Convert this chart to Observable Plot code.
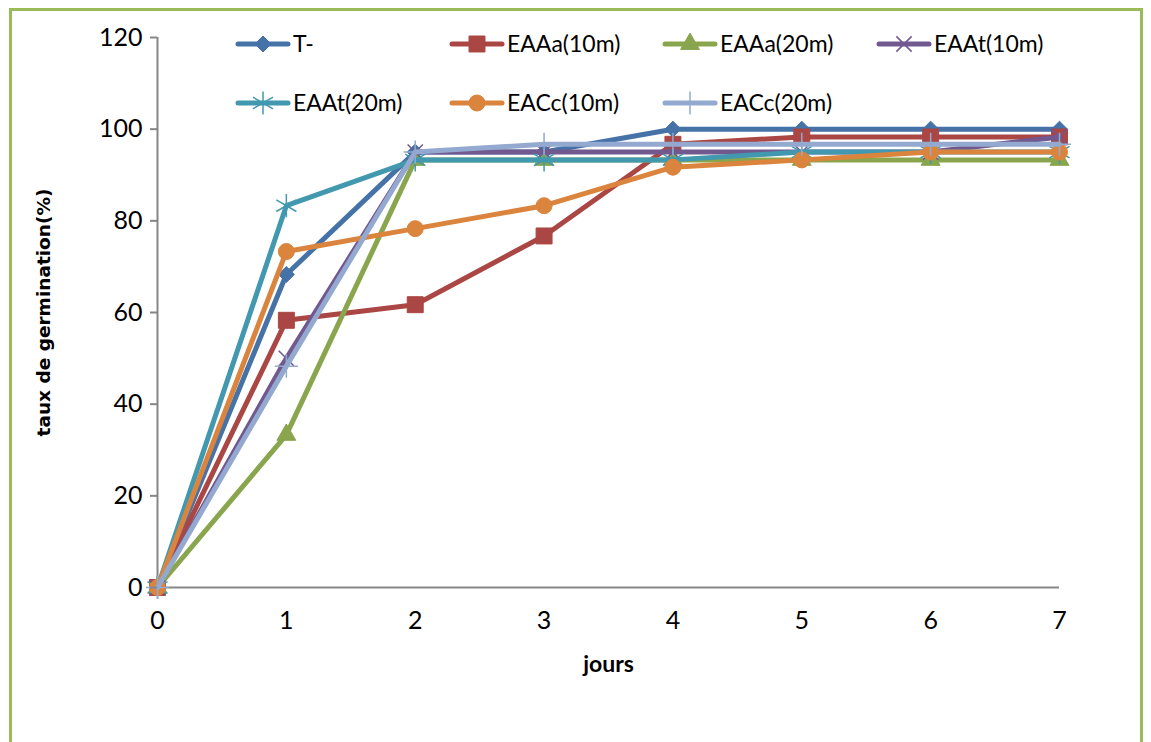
<!DOCTYPE html>
<html>
<head>
<meta charset="utf-8">
<script src="https://cdn.jsdelivr.net/npm/d3@7"></script>
<script src="https://cdn.jsdelivr.net/npm/@observablehq/plot@0.6"></script>
<style>
  html, body { margin: 0; padding: 0; background: #fff; overflow: hidden; }
  #wrap { position: relative; width: 1151px; height: 742px; }
  #frame { position: absolute; left: 9px; top: 8px; width: 1134px; height: 800px;
           border: 3px solid #9BBB59; box-sizing: border-box; }
  #chart, #legend { position: absolute; left: 0; top: 0; }
  #legend { pointer-events: none; }
</style>
</head>
<body>
<div id="wrap">
  <div id="frame"></div>
  <div id="chart"></div>
  <svg id="legend" width="1151" height="742"></svg>
</div>
<script>
// Days of observation
const days = [0, 1, 2, 3, 4, 5, 6, 7];

// Germination rate (%) per treatment
const tMoins   = [0, 68.3, 95, 95, 100, 100, 100, 100];
const eaaa10   = [0, 58.3, 61.7, 76.7, 96.7, 98.3, 98.3, 98.3];
const eaaa20   = [0, 33.3, 93.3, 93.3, 93.3, 93.3, 93.3, 93.3];
const eaat10   = [0, 50, 95, 95, 95, 95, 95, 98.3];
const eaat20   = [0, 83.3, 93.3, 93.3, 93.3, 95, 95, 95];
const eacc10   = [0, 73.3, 78.3, 83.3, 91.7, 93.3, 95, 95];
const eacc20   = [0, 48.3, 95, 96.7, 96.7, 96.7, 96.7, 96.7];

const seriesNames  = ["T-", "EAAa(10m)", "EAAa(20m)", "EAAt(10m)", "EAAt(20m)", "EACc(10m)", "EACc(20m)"];
const seriesValues = [tMoins, eaaa10, eaaa20, eaat10, eaat20, eacc10, eacc20];
const seriesColors = ["#4572A7", "#AA4643", "#89A54E", "#71588F", "#4198AF", "#DB843D", "#93A9CF"];
const seriesSymbols = ["diamond2", "square", "triangle", "times", "asterisk", "circle", "plus"];
const symbolRadius  = [7.2, 9, 7, 7, 11, 8, 7.5];
const strokeOnly    = [false, false, false, true, true, false, true];

const yTicks = [0, 20, 40, 60, 80, 100, 120];

const font = "Lato, 'Open Sans', sans-serif";

const rows = seriesNames.flatMap((name, i) =>
  days.map((d, j) => ({serie: name, idx: i, jour: d, taux: seriesValues[i][j]})));

const marks = [
  Plot.ruleX([0], {stroke: "#868686", strokeWidth: 2}),
  Plot.ruleY([0], {stroke: "#868686", strokeWidth: 2}),
];
seriesNames.forEach((name, i) => {
  const data = rows.filter(r => r.idx === i);
  marks.push(Plot.line(data, {x: "jour", y: "taux", stroke: seriesColors[i],
    strokeWidth: 5, strokeLinejoin: "round", strokeLinecap: "round"}));
  marks.push(Plot.dot(data, strokeOnly[i]
    ? {x: "jour", y: "taux", symbol: seriesSymbols[i], r: symbolRadius[i], stroke: seriesColors[i], strokeWidth: 1.5, fill: "none"}
    : {x: "jour", y: "taux", symbol: seriesSymbols[i], r: symbolRadius[i], fill: seriesColors[i], stroke: seriesColors[i], strokeWidth: 1}));
});

const chart = Plot.plot({
  width: 1151,
  height: 742,
  marginTop: 37,
  marginBottom: 155,
  marginLeft: 157,
  marginRight: 92,
  style: {fontFamily: font, fontSize: "25px", color: "#000", background: "transparent"},
  x: {domain: [0, 7]},
  y: {domain: [0, 120]},
  marks: [
    ...marks,
    Plot.axisY({ticks: yTicks, tickSize: 7, tickPadding: 8, stroke: "#868686", strokeWidth: 2,
                tickFormat: d3.format("d"), label: null, fontSize: 25}),
    Plot.axisX({ticks: days, tickSize: 0, tickPadding: 24, tickFormat: d3.format("d"), label: null, fontSize: 25}),
    Plot.axisY({ticks: [], label: "taux de germination(%)", labelAnchor: "center", labelArrow: "none", labelOffset: 121,
                fontWeight: "bold", fontSize: 18.5, fontFamily: "'DejaVu Sans', sans-serif"}),
    Plot.axisX({ticks: [], label: "jours", labelAnchor: "center", labelArrow: "none", labelOffset: 84,
                fontWeight: "bold", fontSize: 23})
  ]
});
document.getElementById("chart").appendChild(chart);

// Legend: two rows of four columns above the plot area
const symMap = {diamond2: d3.symbolDiamond2, square: d3.symbolSquare, triangle: d3.symbolTriangle,
  times: d3.symbolTimes, asterisk: d3.symbolAsterisk, circle: d3.symbolCircle, plus: d3.symbolPlus};
const legend = d3.select("#legend");
const colX = [236, 450, 663, 877];
const rowY = [44, 103];
seriesNames.forEach((name, i) => {
  const x0 = colX[i % 4], y0 = rowY[Math.floor(i / 4)];
  const g = legend.append("g").attr("transform", `translate(${x0},${y0})`);
  g.append("line").attr("x1", 2).attr("x2", 52).attr("y1", 0).attr("y2", 0)
    .attr("stroke", seriesColors[i]).attr("stroke-width", 5).attr("stroke-linecap", "round");
  const r = symbolRadius[i];
  g.append("path").attr("transform", "translate(27,0)")
    .attr("d", d3.symbol(symMap[seriesSymbols[i]], Math.PI * r * r)())
    .attr("fill", strokeOnly[i] ? "none" : seriesColors[i])
    .attr("stroke", seriesColors[i]).attr("stroke-width", strokeOnly[i] ? 1.5 : 1);
  g.append("text").attr("x", 57).attr("y", 0).attr("dy", "0.35em")
    .attr("font-family", font).attr("font-size", 23).attr("fill", "#000").text(name);
});
</script>
</body>
</html>
